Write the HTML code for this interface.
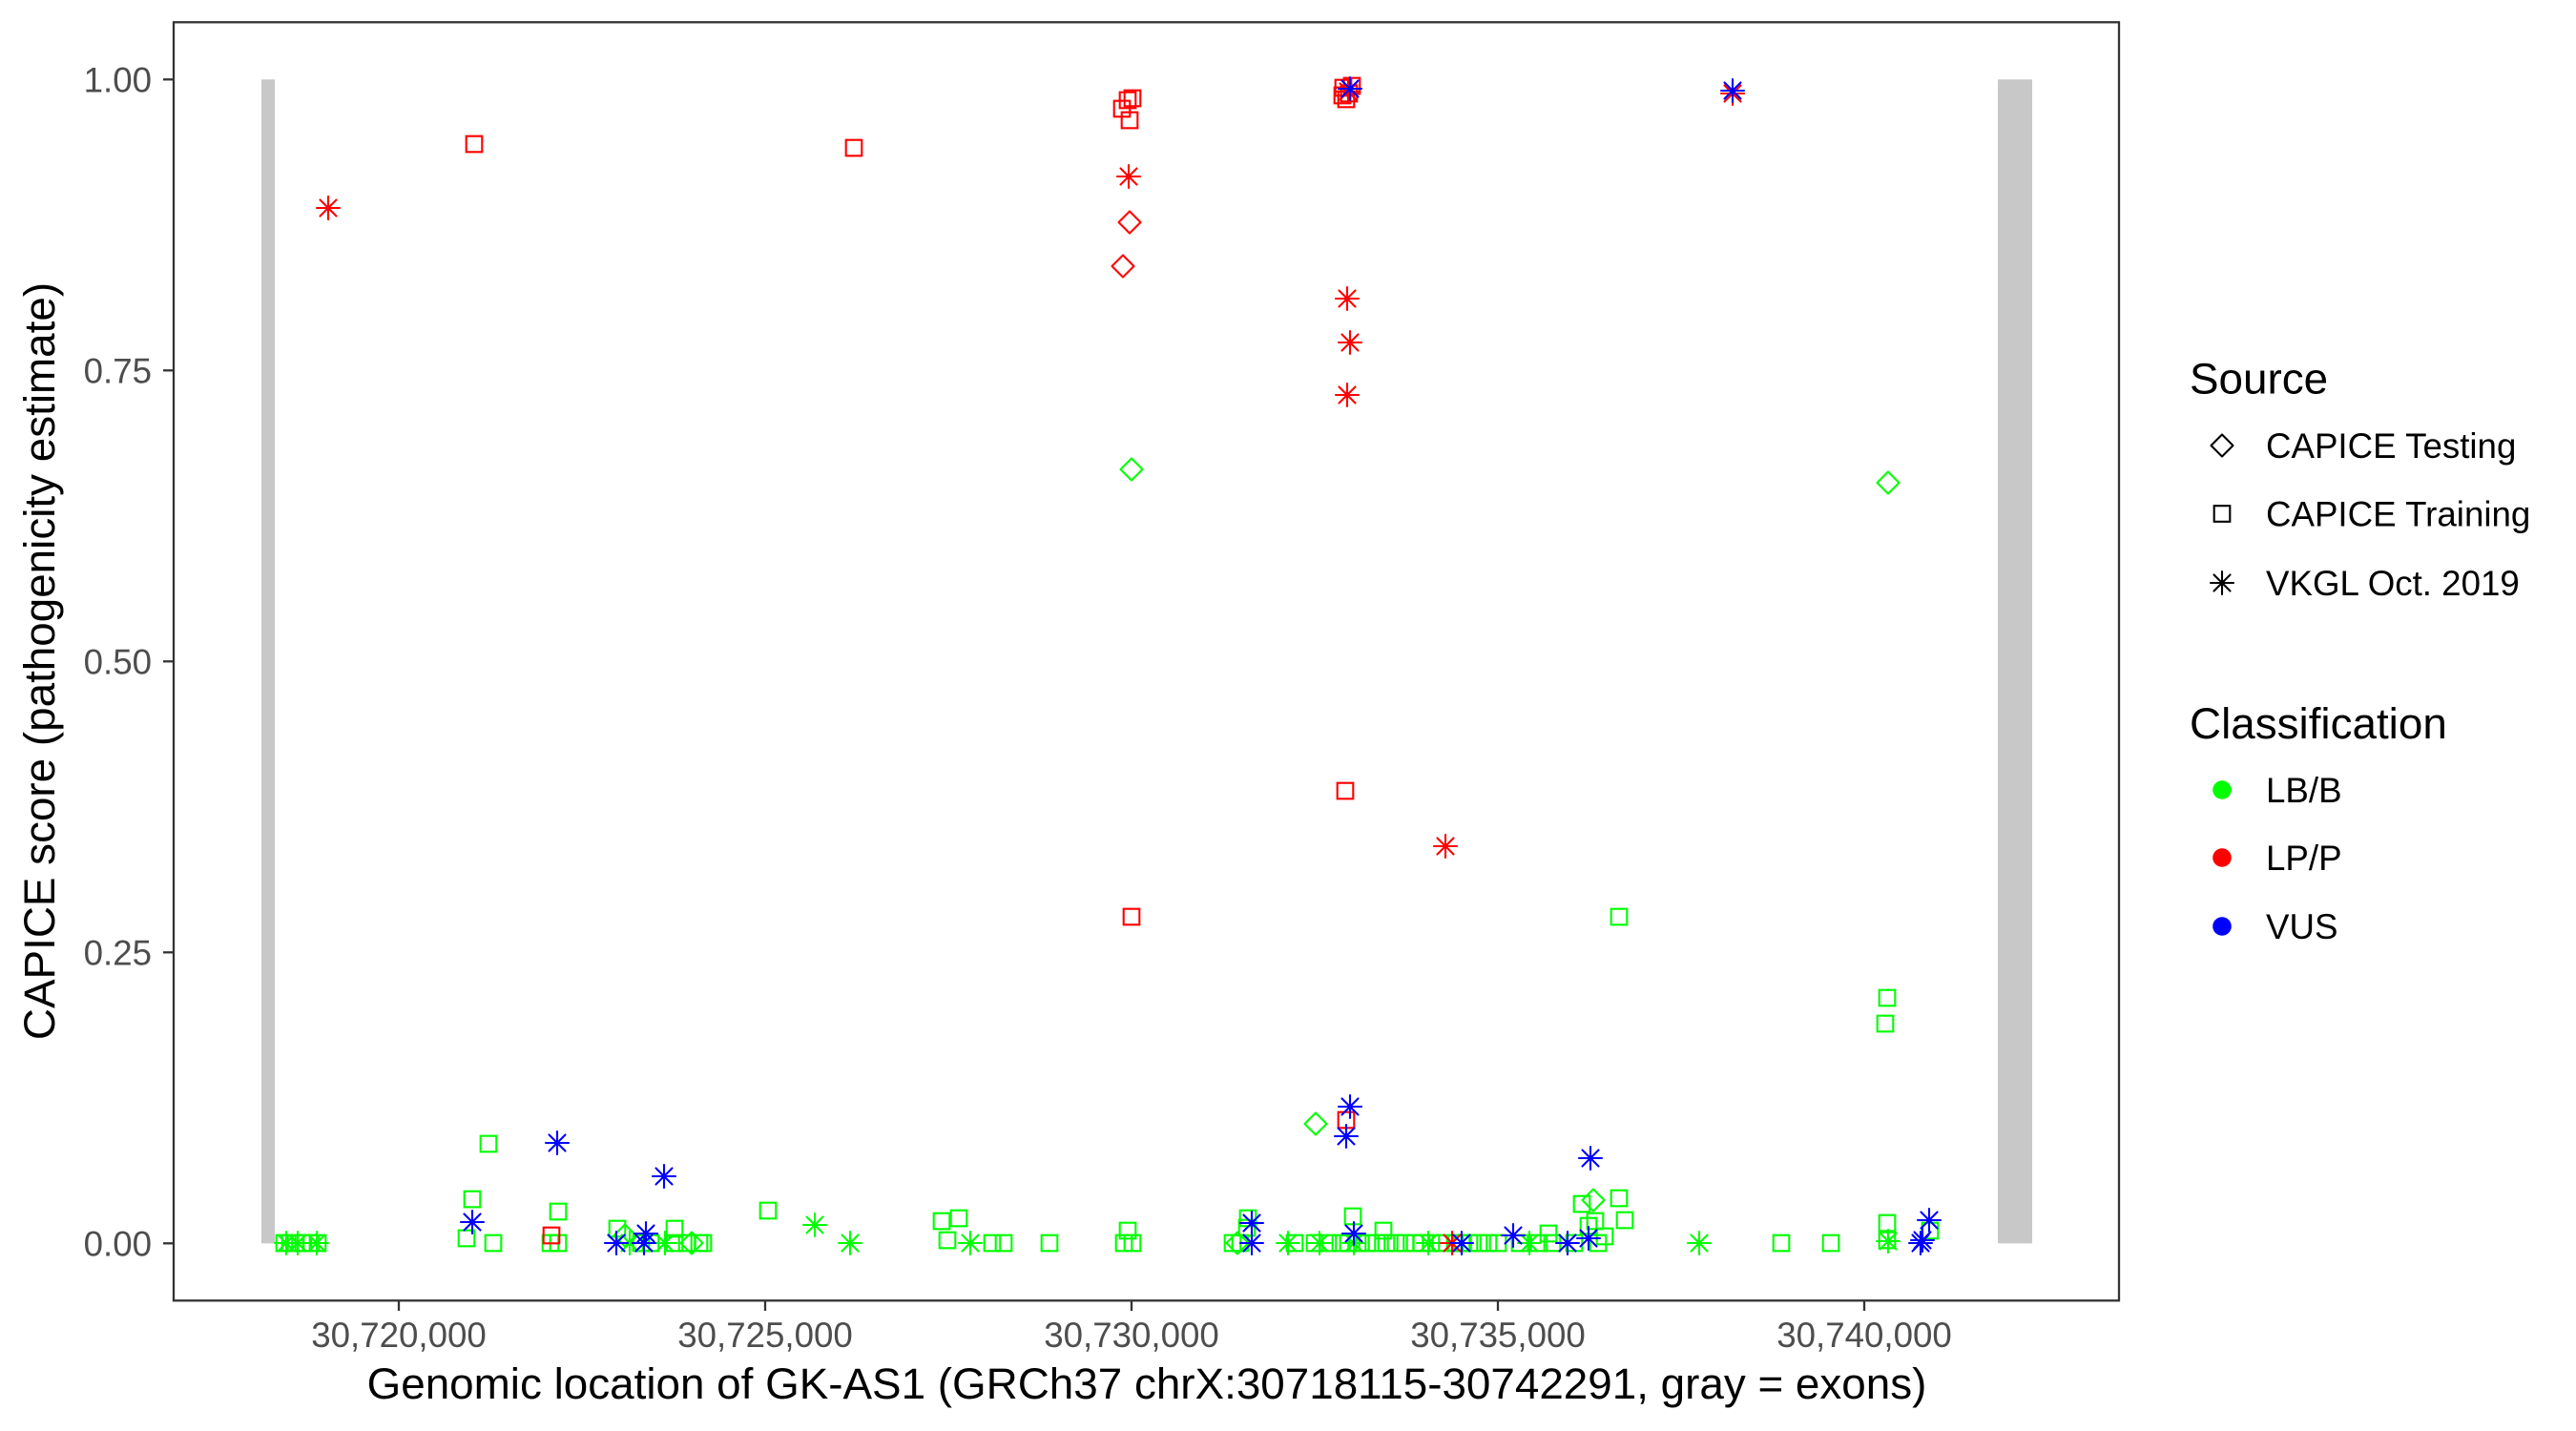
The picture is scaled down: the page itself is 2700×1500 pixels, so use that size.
<!DOCTYPE html>
<html>
<head>
<meta charset="utf-8">
<style>
html,body{margin:0;padding:0;background:#fff;}
svg{display:block;}
text{font-family:"Liberation Sans",Arial,sans-serif;}
</style>
</head>
<body>
<svg xmlns="http://www.w3.org/2000/svg" xmlns:xlink="http://www.w3.org/1999/xlink" width="2700" height="1500" viewBox="0 0 2700 1500">
<defs>
<path id="sq" d="M-8.3,-8.3h16.6v16.6h-16.6z" fill="none" stroke="currentColor" stroke-width="2.1"/>
<path id="dm" d="M0,-11.5L11.5,0L0,11.5L-11.5,0z" fill="none" stroke="currentColor" stroke-width="2.1" stroke-linejoin="round"/>
<path id="as" d="M-12,0H12M0,-12V12M-8.5,-8.5L8.5,8.5M-8.5,8.5L8.5,-8.5" fill="none" stroke="currentColor" stroke-width="2.1" stroke-linecap="round"/>
</defs>
<rect x="0" y="0" width="2700" height="1500" fill="#fff"/>

<!-- exons -->
<rect x="274" y="83.3" width="14" height="1220" fill="#c8c8c8"/>
<rect x="2094" y="83.3" width="36" height="1220" fill="#c8c8c8"/>

<!-- green points -->
<g color="#00ff00">
<use href="#sq" x="298" y="1303"/><use href="#sq" x="304" y="1303"/><use href="#sq" x="310" y="1303"/><use href="#sq" x="318" y="1303"/><use href="#sq" x="326" y="1303"/><use href="#sq" x="333" y="1303"/>
<use href="#as" x="300" y="1303"/><use href="#as" x="312" y="1303"/><use href="#as" x="332" y="1303"/>
<use href="#sq" x="512" y="1199"/><use href="#sq" x="495" y="1257"/><use href="#sq" x="489" y="1298"/><use href="#sq" x="517" y="1303"/>
<use href="#sq" x="585" y="1270"/><use href="#sq" x="577" y="1303"/><use href="#sq" x="585" y="1303"/>
<use href="#sq" x="647" y="1288"/><use href="#dm" x="655" y="1295"/><use href="#as" x="660" y="1303"/><use href="#sq" x="672" y="1303"/><use href="#sq" x="682" y="1303"/>
<use href="#as" x="697" y="1303"/><use href="#sq" x="707" y="1288"/><use href="#sq" x="707" y="1303"/><use href="#sq" x="720" y="1303"/><use href="#dm" x="725" y="1303"/><use href="#sq" x="733" y="1303"/><use href="#sq" x="737" y="1303"/>
<use href="#sq" x="805" y="1269"/><use href="#as" x="854" y="1284"/><use href="#as" x="891" y="1303"/>
<use href="#sq" x="987" y="1280"/><use href="#sq" x="1005" y="1277"/><use href="#sq" x="993" y="1300"/><use href="#as" x="1017" y="1303"/>
<use href="#sq" x="1040" y="1303"/><use href="#sq" x="1052" y="1303"/><use href="#sq" x="1100" y="1303"/>
<use href="#sq" x="1182" y="1290"/><use href="#sq" x="1178" y="1303"/><use href="#sq" x="1187" y="1303"/>
<use href="#dm" x="1186" y="492"/>
<use href="#sq" x="1292" y="1303"/><use href="#dm" x="1297" y="1303"/><use href="#sq" x="1300" y="1303"/><use href="#sq" x="1308" y="1277"/><use href="#sq" x="1307" y="1287"/>
<use href="#as" x="1350" y="1303"/><use href="#sq" x="1357" y="1303"/><use href="#dm" x="1379" y="1178"/><use href="#sq" x="1378" y="1303"/><use href="#as" x="1383" y="1303"/><use href="#sq" x="1392" y="1303"/>
<use href="#sq" x="1405" y="1303"/><use href="#sq" x="1413" y="1303"/><use href="#as" x="1419" y="1303"/><use href="#sq" x="1418" y="1275"/><use href="#sq" x="1423" y="1303"/><use href="#sq" x="1433" y="1303"/>
<use href="#sq" x="1443" y="1303"/><use href="#sq" x="1450" y="1290"/><use href="#sq" x="1453" y="1303"/><use href="#sq" x="1463" y="1303"/><use href="#sq" x="1473" y="1303"/><use href="#sq" x="1483" y="1303"/>
<use href="#sq" x="1490" y="1303"/><use href="#as" x="1497" y="1303"/><use href="#sq" x="1500" y="1303"/><use href="#sq" x="1510" y="1303"/><use href="#sq" x="1525" y="1303"/><use href="#sq" x="1532" y="1303"/>
<use href="#sq" x="1540" y="1303"/><use href="#sq" x="1550" y="1303"/><use href="#sq" x="1560" y="1303"/><use href="#sq" x="1570" y="1303"/><use href="#sq" x="1593" y="1303"/><use href="#as" x="1603" y="1303"/>
<use href="#sq" x="1613" y="1303"/><use href="#sq" x="1623" y="1293"/><use href="#sq" x="1627" y="1303"/><use href="#sq" x="1650" y="1303"/>
<use href="#sq" x="1658" y="1262"/><use href="#dm" x="1670" y="1258"/><use href="#sq" x="1665" y="1285"/><use href="#sq" x="1672" y="1280"/><use href="#sq" x="1675" y="1303"/><use href="#sq" x="1682" y="1296"/>
<use href="#sq" x="1697" y="1256"/><use href="#sq" x="1703" y="1279"/><use href="#as" x="1781" y="1303"/><use href="#sq" x="1867" y="1303"/><use href="#sq" x="1919" y="1303"/>
<use href="#sq" x="1978" y="1282"/><use href="#sq" x="1978" y="1300"/><use href="#as" x="1979" y="1301"/><use href="#sq" x="2023" y="1290"/>
<use href="#sq" x="1697" y="961"/><use href="#dm" x="1979" y="506"/><use href="#sq" x="1978" y="1046"/><use href="#sq" x="1976" y="1073"/>
</g>

<!-- red points -->
<g color="#ff0000">
<use href="#as" x="344" y="218"/><use href="#sq" x="497" y="151"/><use href="#sq" x="895" y="155"/><use href="#sq" x="578" y="1295"/>
<use href="#sq" x="1187" y="103"/><use href="#sq" x="1176" y="114"/><use href="#sq" x="1184" y="126"/><use href="#sq" x="1182" y="105"/>
<use href="#as" x="1183" y="185"/><use href="#dm" x="1184" y="233"/><use href="#dm" x="1177" y="279"/><use href="#sq" x="1186" y="961"/>
<use href="#sq" x="1408" y="92"/><use href="#sq" x="1414" y="98"/><use href="#sq" x="1411" y="104"/><use href="#sq" x="1417" y="90"/><use href="#sq" x="1407" y="100"/><use href="#as" x="1413" y="96"/>
<use href="#as" x="1412" y="313"/><use href="#as" x="1415" y="359"/><use href="#as" x="1412" y="414"/>
<use href="#sq" x="1410" y="829"/><use href="#sq" x="1411" y="1174"/><use href="#as" x="1515" y="887"/><use href="#as" x="1522" y="1303"/><use href="#as" x="1816" y="98"/>
</g>

<!-- blue points -->
<g color="#0000ff">
<use href="#as" x="584" y="1198"/><use href="#as" x="696" y="1233"/><use href="#as" x="495" y="1281"/><use href="#as" x="646" y="1303"/><use href="#as" x="675" y="1303"/><use href="#as" x="677" y="1293"/>
<use href="#as" x="1312" y="1282"/><use href="#as" x="1312" y="1303"/><use href="#as" x="1415" y="93"/><use href="#as" x="1415" y="1160"/><use href="#as" x="1411" y="1191"/><use href="#as" x="1419" y="1293"/>
<use href="#as" x="1532" y="1303"/><use href="#as" x="1586" y="1295"/><use href="#as" x="1643" y="1303"/><use href="#as" x="1665" y="1298"/><use href="#as" x="1667" y="1214"/>
<use href="#as" x="1816" y="95"/><use href="#as" x="2022" y="1279"/><use href="#as" x="2013" y="1303"/><use href="#as" x="2015" y="1300"/>
</g>

<!-- panel border -->
<rect x="182" y="23.3" width="2039" height="1340" fill="none" stroke="#333333" stroke-width="2.3"/>

<!-- y ticks -->
<g stroke="#333333" stroke-width="2.3">
<line x1="171" y1="83.3" x2="182" y2="83.3"/>
<line x1="171" y1="388.3" x2="182" y2="388.3"/>
<line x1="171" y1="693.3" x2="182" y2="693.3"/>
<line x1="171" y1="998.3" x2="182" y2="998.3"/>
<line x1="171" y1="1303.3" x2="182" y2="1303.3"/>
</g>
<g font-size="36.7" fill="#4d4d4d" text-anchor="end">
<text x="159" y="96.5">1.00</text>
<text x="159" y="401.5">0.75</text>
<text x="159" y="706.5">0.50</text>
<text x="159" y="1011.5">0.25</text>
<text x="159" y="1316.5">0.00</text>
</g>

<!-- x ticks -->
<g stroke="#333333" stroke-width="2.3">
<line x1="418" y1="1363" x2="418" y2="1374"/>
<line x1="802" y1="1363" x2="802" y2="1374"/>
<line x1="1186" y1="1363" x2="1186" y2="1374"/>
<line x1="1570" y1="1363" x2="1570" y2="1374"/>
<line x1="1954" y1="1363" x2="1954" y2="1374"/>
</g>
<g font-size="36.7" fill="#4d4d4d" text-anchor="middle">
<text x="418" y="1412">30,720,000</text>
<text x="802" y="1412">30,725,000</text>
<text x="1186" y="1412">30,730,000</text>
<text x="1570" y="1412">30,735,000</text>
<text x="1954" y="1412">30,740,000</text>
</g>

<!-- axis titles -->
<text x="1202" y="1466" font-size="45.8" fill="#000" text-anchor="middle">Genomic location of GK-AS1 (GRCh37 chrX:30718115-30742291, gray = exons)</text>
<text transform="translate(57,693) rotate(-90)" font-size="45.8" fill="#000" text-anchor="middle">CAPICE score (pathogenicity estimate)</text>

<!-- legend -->
<text x="2295" y="412.5" font-size="45.8" fill="#000">Source</text>
<g color="#000000">
<use href="#dm" x="2329" y="467"/>
<use href="#sq" x="2329" y="538.5"/>
<use href="#as" x="2329" y="611"/>
</g>
<g font-size="36.7" fill="#000">
<text x="2375" y="480">CAPICE Testing</text>
<text x="2375" y="551.5">CAPICE Training</text>
<text x="2375" y="624">VKGL Oct. 2019</text>
</g>

<text x="2295" y="774" font-size="45.8" fill="#000">Classification</text>
<circle cx="2329" cy="828" r="9.8" fill="#00ff00"/>
<circle cx="2329" cy="899" r="9.8" fill="#ff0000"/>
<circle cx="2329" cy="971" r="9.8" fill="#0000ff"/>
<g font-size="36.7" fill="#000">
<text x="2375" y="841">LB/B</text>
<text x="2375" y="912">LP/P</text>
<text x="2375" y="984">VUS</text>
</g>
</svg>
</body>
</html>
